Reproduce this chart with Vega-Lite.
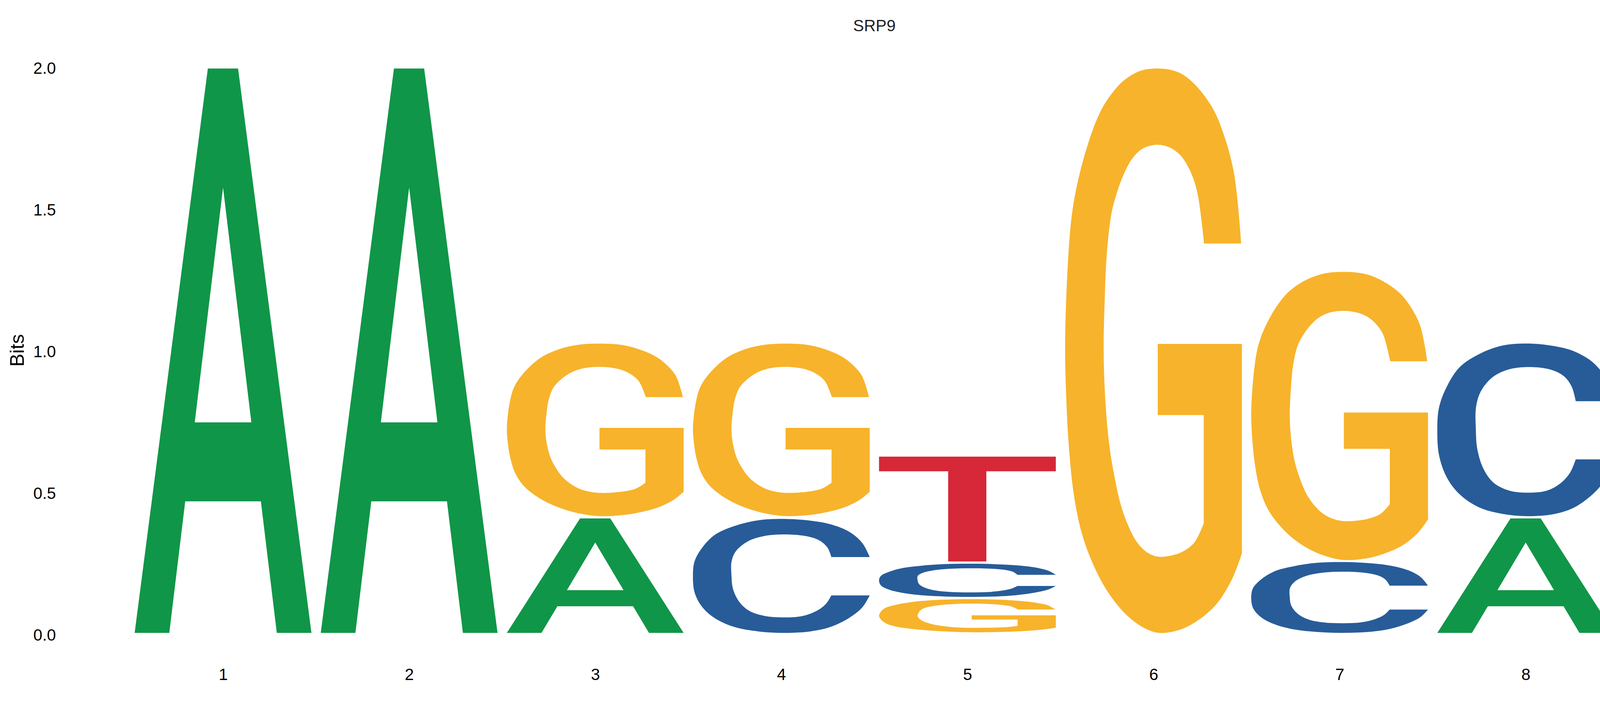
{
  "$schema": "https://vega.github.io/schema/vega-lite/v6.json",
  "width": 3811.2,
  "height": 1451.5,
  "autosize": "none",
  "padding": {"left": 332.8, "top": 175.5, "right": 206, "bottom": 202.5},
  "background": "white",
  "view": {"stroke": null},
  "config": {"font": "Liberation Sans"},

  "title": {
    "text": "SRP9",
    "font": "Liberation Sans",
    "fontSize": 41.7,
    "fontWeight": "normal",
    "color": "#222222",
    "anchor": "middle",
    "frame": "group",
    "baseline": "alphabetic",
    "offset": 34
  },

  "datasets": {
    "glyphs": [
      {"g": "A",
       "p": [0,0,0,0,0,0,0,0,1,1,1],
       "u": [0,0.196,0.286,0.714,0.804,1,0.585,0.414,0.340,0.660,0.5],
       "v": [0,0,0.233,0.233,0,0,1,1,0.373,0.373,0.789]},
      {"g": "T",
       "p": [0,0,0,0,0,0,0,0],
       "u": [0.391,0.607,0.607,1,1,0,0,0.391],
       "v": [0,0,0.86,0.86,1,1,0.86,0.86]},
      {"g": "C",
       "p": [0,0,0,0,0,0,0,0,0,0,0,0,0,0,0,0,0,0,0,0,0,0,0,0,0,0,0,0,0,0,0,0,0,0,0,0,0,0,0,0,0,0,0,0,0,0],
       "u": [1.000,1.000,0.958,0.885,0.774,0.664,0.532,0.370,0.238,0.127,0.054,0.010,0.000,0.010,0.054,0.127,0.238,0.370,0.510,0.664,0.774,0.885,0.958,1.000,1.000,0.783,0.783,0.752,0.701,0.620,0.510,0.407,0.318,0.260,0.226,0.218,0.219,0.245,0.311,0.399,0.517,0.642,0.715,0.760,0.783,0.783],
       "v": [0.666,0.666,0.789,0.887,0.955,0.985,1.000,0.989,0.940,0.864,0.751,0.631,0.503,0.352,0.224,0.126,0.050,0.013,0.000,0.013,0.050,0.133,0.224,0.329,0.329,0.329,0.329,0.254,0.194,0.148,0.136,0.148,0.194,0.277,0.390,0.503,0.631,0.721,0.804,0.849,0.864,0.849,0.812,0.751,0.666,0.666]},
      {"g": "G",
       "p": [0,0,0,0,0,0,0,0,0,0,0,0,0,0,0,0,0,0,0,0,0,0,0,0,0,0,0,0,0,0,0,0,0,0,0,0,0,0,0,0,0,0,0,0,0,0,0,0,0,0,0,0,0,0,0,0,0,0,0,0,0,0,0,0,0,0,0,0,0,0,0,0],
       "u": [0.996,0.996,
             0.955,0.893,0.834,0.739,0.662,0.592,0.511,0.427,0.350,0.291,0.221,0.173,0.133,0.093,0.056,0.034,0.019,0.006,0.000,0.006,0.019,0.048,0.093,0.159,0.247,0.350,0.452,0.533,0.643,0.746,0.856,0.944,
             1.000,1.000,1.000,1.000,0.524,0.524,0.524,0.524,0.784,0.784,0.784,0.784,
             0.731,0.665,0.599,0.526,0.467,0.408,0.357,0.313,0.276,0.247,0.226,0.218,0.224,0.236,0.261,0.291,0.335,0.379,0.438,0.518,0.592,0.650,0.702,0.746,
             0.786,0.786],
       "v": [0.690,0.690,
             0.815,0.887,0.930,0.970,0.990,0.998,1.000,0.996,0.983,0.966,0.936,0.905,0.870,0.827,0.776,0.730,0.672,0.590,0.500,0.420,0.340,0.248,0.178,0.121,0.070,0.031,0.008,0.000,0.005,0.021,0.051,0.095,
             0.141,0.141,0.512,0.512,0.512,0.512,0.386,0.386,0.386,0.386,0.194,0.194,
             0.160,0.144,0.137,0.135,0.142,0.160,0.190,0.229,0.282,0.340,0.420,0.500,0.590,0.672,0.741,0.778,0.815,0.840,0.858,0.865,0.860,0.847,0.822,0.783,
             0.690,0.690]}
    ]
  },

  "data": {
    "values": [
      {"pos": 1, "g": "A", "y0": 0.008, "y1": 2.0},
      {"pos": 2, "g": "A", "y0": 0.008, "y1": 2.0},
      {"pos": 3, "g": "A", "y0": 0.008, "y1": 0.412},
      {"pos": 3, "g": "G", "y0": 0.420, "y1": 1.029},
      {"pos": 4, "g": "C", "y0": 0.008, "y1": 0.410},
      {"pos": 4, "g": "G", "y0": 0.420, "y1": 1.029},
      {"pos": 5, "g": "G", "y0": 0.010, "y1": 0.127},
      {"pos": 5, "g": "C", "y0": 0.135, "y1": 0.252},
      {"pos": 5, "g": "T", "y0": 0.260, "y1": 0.630},
      {"pos": 6, "g": "G", "y0": 0.008, "y1": 2.0},
      {"pos": 7, "g": "C", "y0": 0.008, "y1": 0.258},
      {"pos": 7, "g": "G", "y0": 0.265, "y1": 1.282},
      {"pos": 8, "g": "A", "y0": 0.008, "y1": 0.412},
      {"pos": 8, "g": "C", "y0": 0.420, "y1": 1.029}
    ]
  },

  "transform": [
    {"lookup": "g", "from": {"data": {"name": "glyphs"}, "key": "g", "fields": ["p", "u", "v"]}},
    {"flatten": ["p", "u", "v"]},
    {"calculate": "datum.pos - 0.475 + 0.95 * datum.u", "as": "x"},
    {"calculate": "datum.y0 + (datum.y1 - datum.y0) * datum.v", "as": "y"},
    {"calculate": "datum.pos + '_' + datum.g + '_' + datum.p", "as": "id"}
  ],

  "encoding": {
    "x": {
      "field": "x",
      "type": "quantitative",
      "scale": {"domain": [0.5, 8.5], "nice": false, "zero": false},
      "axis": {
        "title": null,
        "values": [1, 2, 3, 4, 5, 6, 7, 8],
        "format": "d",
        "domain": false,
        "ticks": false,
        "tickSize": 0,
        "grid": false,
        "labelFont": "Liberation Sans",
        "labelFontSize": 41.7,
        "labelColor": "black",
        "labelPadding": 81
      }
    },
    "y": {
      "field": "y",
      "type": "quantitative",
      "scale": {"domain": [0, 2], "nice": false},
      "axis": {
        "title": "Bits",
        "values": [0, 0.5, 1, 1.5, 2],
        "format": ".1f",
        "domain": false,
        "ticks": false,
        "tickSize": 0,
        "grid": false,
        "labelFont": "Liberation Sans",
        "labelFontSize": 41.7,
        "labelColor": "black",
        "labelPadding": 190,
        "titleFont": "Liberation Sans",
        "titleFontSize": 50,
        "titleFontWeight": "normal",
        "titleColor": "black",
        "titleAngle": 270,
        "titleBaseline": "alphabetic",
        "titleX": -272,
        "titleY": 721.5
      }
    },
    "order": {"value": null},
    "detail": {"field": "id"}
  },

  "layer": [
    {
      "transform": [{"filter": "datum.p == 0 && (datum.g == 'A' || datum.g == 'T')"}],
      "mark": {"type": "line", "filled": true, "interpolate": "linear"},
      "encoding": {
        "color": {
          "field": "g",
          "type": "nominal",
          "scale": {"domain": ["A", "C", "G", "T"], "range": ["#109648", "#275C99", "#F7B32B", "#D62839"]},
          "legend": null
        }
      }
    },
    {
      "transform": [{"filter": "datum.p == 0 && (datum.g == 'C' || datum.g == 'G')"}],
      "mark": {"type": "line", "filled": true, "interpolate": "catmull-rom"},
      "encoding": {
        "color": {
          "field": "g",
          "type": "nominal",
          "scale": {"domain": ["A", "C", "G", "T"], "range": ["#109648", "#275C99", "#F7B32B", "#D62839"]},
          "legend": null
        }
      }
    },
    {
      "transform": [{"filter": "datum.p == 1"}],
      "mark": {"type": "line", "filled": true, "interpolate": "linear"},
      "encoding": {
        "color": {"value": "white"}
      }
    }
  ]
}
